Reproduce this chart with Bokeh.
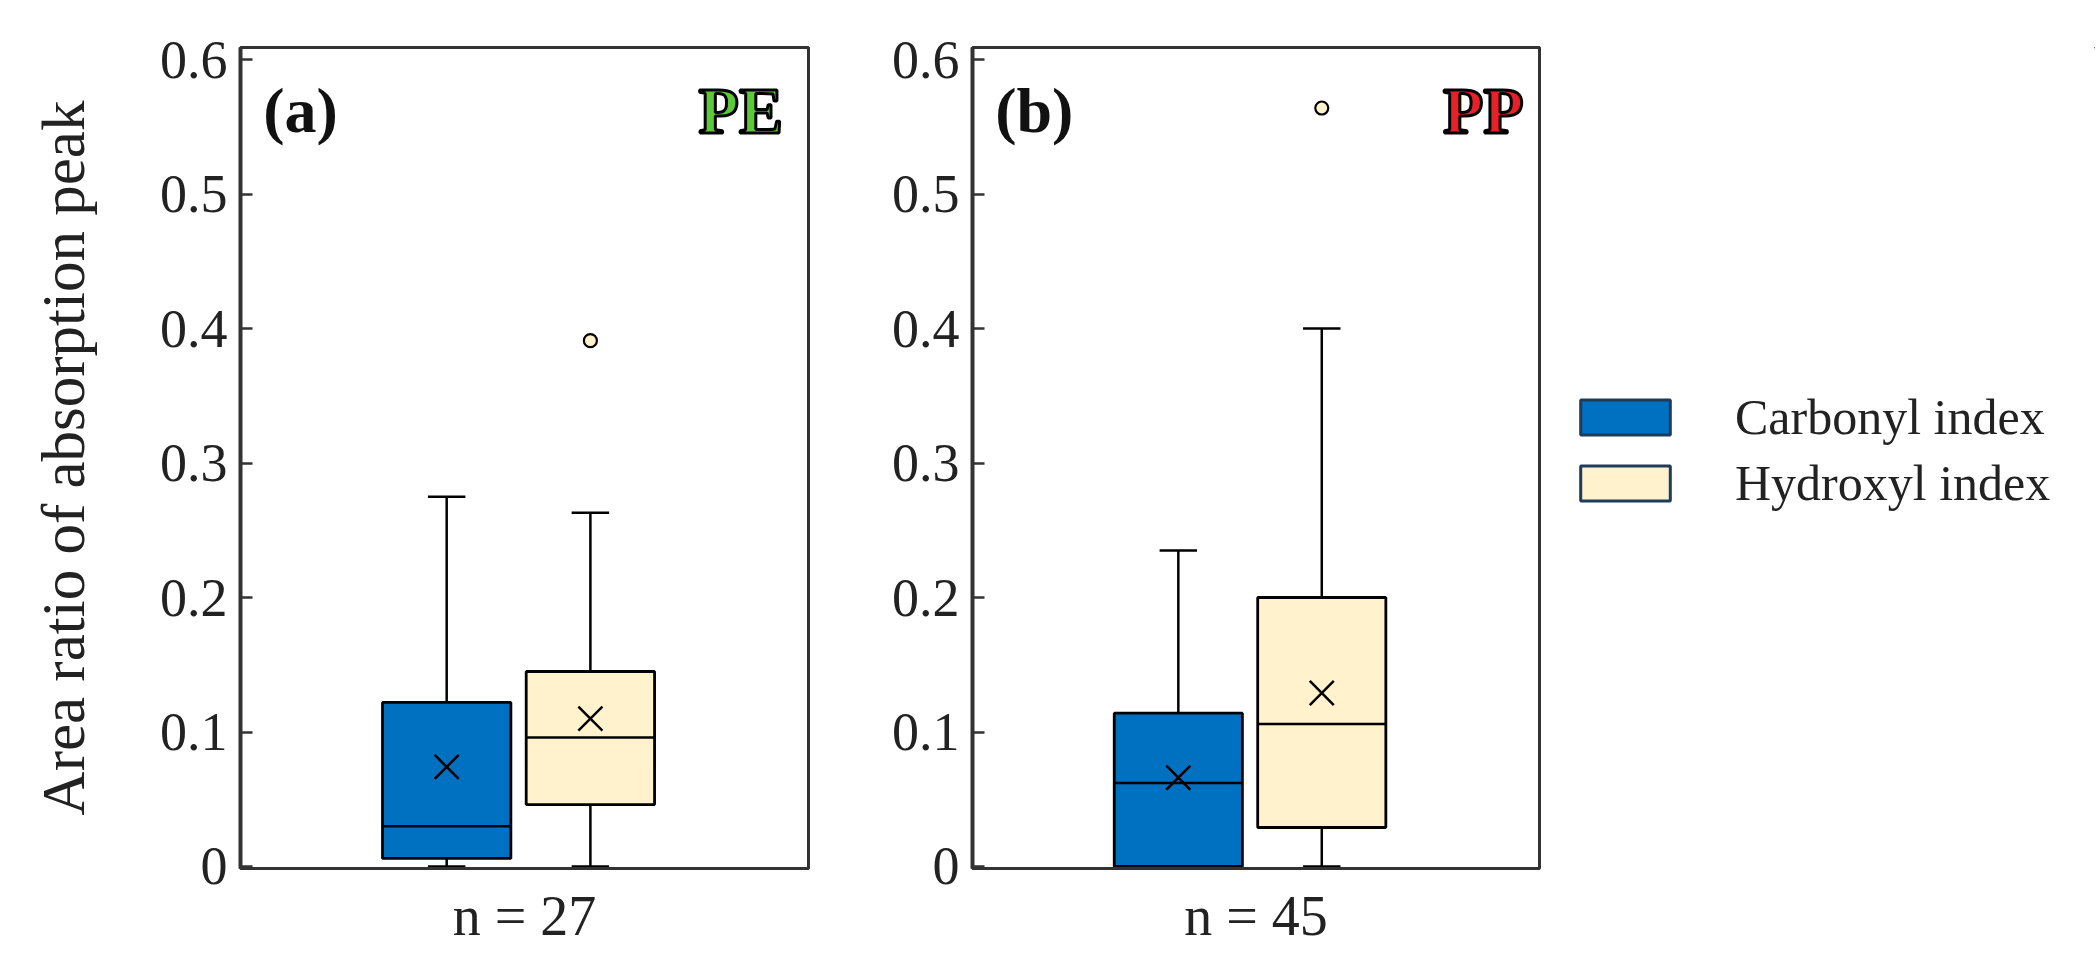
from bokeh.plotting import figure
from bokeh.layouts import row
from bokeh.models import Label, Legend, LegendItem, FixedTicker, ColumnDataSource
from bokeh.embed import file_html
from bokeh.resources import INLINE

# ---------------- data ----------------
series = ["Carbonyl index", "Hydroxyl index"]
colors = ["#0070c0", "#fff2cc"]
positions = [0.363, 0.616]

# panel (a) PE, n = 27
pe_low = [0.0, 0.0]
pe_q1 = [0.006, 0.046]
pe_median = [0.030, 0.096]
pe_q3 = [0.122, 0.145]
pe_high = [0.275, 0.263]
pe_mean = [0.074, 0.110]
pe_outlier_idx = [1]
pe_outliers = [0.391]

# panel (b) PP, n = 45
pp_low = [0.0, 0.0]
pp_q1 = [0.0, 0.029]
pp_median = [0.062, 0.106]
pp_q3 = [0.114, 0.200]
pp_high = [0.235, 0.400]
pp_mean = [0.066, 0.129]
pp_outlier_idx = [1]
pp_outliers = [0.564]

y_ticks = [0, 0.1, 0.2, 0.3, 0.4, 0.5, 0.6]
y_tick_labels = ["0", "0.1", "0.2", "0.3", "0.4", "0.5", "0.6"]
y_title = "Area ratio of absorption peak"

FONT = "Liberation Serif"
BOX_W = 0.226
CAP_W = 0.066


def make_panel(width, border_left, border_right, low, q1, med, q3, high, mean,
               out_idx, outs, n_label, tag, tag_x, code, code_color, code_x,
               ylabel):
    p = figure(width=width, height=968, x_range=(0, 1), y_range=(-0.0015, 0.609),
               output_backend="svg", toolbar_location=None,
               min_border_left=border_left, min_border_right=border_right,
               min_border_top=47, min_border_bottom=100)
    p.background_fill_color = "white"
    p.border_fill_color = "white"
    p.grid.visible = False
    p.outline_line_color = "#333333"
    p.outline_line_width = 3

    src = ColumnDataSource(dict(
        x=positions, low=low, q1=q1, med=med, q3=q3, high=high, mean=mean,
        color=colors,
        xl=[v - BOX_W / 2 for v in positions], xr=[v + BOX_W / 2 for v in positions],
        cl=[v - CAP_W / 2 for v in positions], cr=[v + CAP_W / 2 for v in positions],
    ))
    # whiskers
    p.segment(x0="x", y0="q3", x1="x", y1="high", source=src, line_color="black", line_width=2.5)
    p.segment(x0="x", y0="q1", x1="x", y1="low", source=src, line_color="black", line_width=2.5)
    p.segment(x0="cl", y0="high", x1="cr", y1="high", source=src, line_color="black", line_width=2.5)
    p.segment(x0="cl", y0="low", x1="cr", y1="low", source=src, line_color="black", line_width=2.5)
    # boxes
    p.vbar(x="x", width=BOX_W, bottom="q1", top="q3", source=src,
           fill_color="color", line_color="black", line_width=2.8)
    # medians
    p.segment(x0="xl", y0="med", x1="xr", y1="med", source=src, line_color="black", line_width=2.5)
    # means
    p.scatter(x="x", y="mean", source=src, marker="x", size=34,
              line_color="black", line_width=2.5)
    # outliers
    p.scatter(x=[positions[i] for i in out_idx], y=outs, marker="circle", size=13,
              fill_color="#fff2cc", line_color="black", line_width=2.2)

    # axes
    yax = p.yaxis[0]
    yax.ticker = FixedTicker(ticks=y_ticks)
    yax.major_label_overrides = {t: l for t, l in zip(y_ticks, y_tick_labels)}
    yax.major_tick_in = 12
    yax.major_tick_out = 0
    yax.minor_tick_line_color = None
    yax.major_tick_line_width = 2.5
    yax.major_tick_line_color = "#333333"
    yax.axis_line_color = "#333333"
    yax.axis_line_width = 4
    yax.major_label_text_font = FONT
    yax.major_label_text_font_size = "54px"
    yax.major_label_text_color = "#222222"
    yax.major_label_standoff = 13
    if ylabel:
        yax.axis_label = ylabel
        yax.axis_label_text_font = FONT
        yax.axis_label_text_font_size = "61px"
        yax.axis_label_text_font_style = "normal"
        yax.axis_label_text_color = "#222222"
        yax.axis_label_standoff = 60

    xax = p.xaxis[0]
    xax.ticker = FixedTicker(ticks=[])
    xax.major_tick_line_color = None
    xax.minor_tick_line_color = None
    xax.axis_line_color = "#333333"
    xax.axis_line_width = 3
    xax.axis_label = n_label
    xax.axis_label_text_font = FONT
    xax.axis_label_text_font_size = "56px"
    xax.axis_label_text_font_style = "normal"
    xax.axis_label_text_color = "#222222"
    xax.axis_label_standoff = 16

    p.add_layout(Label(x=tag_x, y=0.562, text=tag, text_font=FONT,
                       text_font_size="64px", text_font_style="bold",
                       text_color="#111111", text_baseline="alphabetic"))
    p.add_layout(Label(x=code_x, y=0.562, text=code, text_font=FONT,
                       text_font_size="66px", text_font_style="bold",
                       text_color=code_color, text_outline_color="black",
                       text_align="right", text_baseline="alphabetic"))
    return p


pa = make_panel(850, 240, 42, pe_low, pe_q1, pe_median, pe_q3, pe_high, pe_mean,
                pe_outlier_idx, pe_outliers, "n = 27", "(a)", 0.04, "PE", "#5cc83a", 0.955,
                y_title)
pb = make_panel(709, 122, 20, pp_low, pp_q1, pp_median, pp_q3, pp_high, pp_mean,
                pp_outlier_idx, pp_outliers, "n = 45", "(b)", 0.04, "PP", "#e8202a", 0.972,
                None)

# legend in its own panel
pl = figure(width=536, height=968, x_range=(0, 1), y_range=(0, 1),
            output_backend="svg", toolbar_location=None,
            min_border_left=0, min_border_right=0, min_border_top=0, min_border_bottom=0)
pl.axis.visible = False
pl.grid.visible = False
pl.outline_line_color = None
pl.background_fill_color = "white"
pl.border_fill_color = "white"
r1 = pl.vbar(x=[5], top=[5], bottom=[4], width=0.1, fill_color=colors[0],
             line_color="#1f3b5c", line_width=3)
r2 = pl.vbar(x=[5], top=[5], bottom=[4], width=0.1, fill_color=colors[1],
             line_color="#1f3b5c", line_width=3)
legend = Legend(items=[LegendItem(label=series[0], renderers=[r1]),
                       LegendItem(label=series[1], renderers=[r2])],
                location=(10, 356), glyph_width=112, glyph_height=44,
                label_standoff=54, spacing=8, margin=0, padding=0,
                label_text_font=FONT, label_text_font_size="50px",
                label_text_color="#222222",
                border_line_alpha=0, background_fill_alpha=0)
pl.add_layout(legend)

layout = row(pa, pb, pl)
open("out.html", "w").write(file_html(layout, INLINE))
